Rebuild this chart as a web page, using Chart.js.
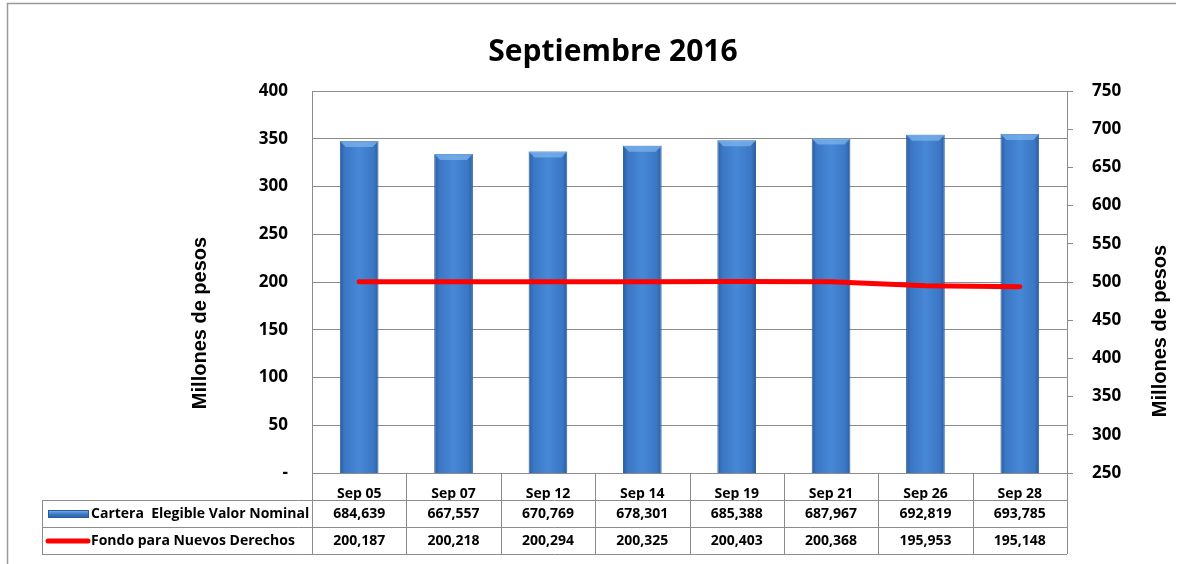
<!DOCTYPE html>
<html>
<head>
<meta charset="utf-8">
<script src="https://cdn.jsdelivr.net/npm/chart.js@4"></script>
<style>
  body { margin: 0; background: #fff; }
  canvas { display: block; }
</style>
</head>
<body>
<canvas id="chart" width="1179" height="564"></canvas>
<script>
const labels = ['Sep 05', 'Sep 07', 'Sep 12', 'Sep 14', 'Sep 19', 'Sep 21', 'Sep 26', 'Sep 28'];
const carteraVals = [684639, 667557, 670769, 678301, 685388, 687967, 692819, 693785];
const fondoVals = [200187, 200218, 200294, 200325, 200403, 200368, 195953, 195148];
const carteraName = 'Cartera  Elegible Valor Nominal';
const fondoName = 'Fondo para Nuevos Derechos';
const axisTitle = 'Millones de pesos';

const FONT = '"Open Sans", Lato, sans-serif';
const ARIAL = '"Liberation Sans", Arial, sans-serif';
const GRID = '#8c8c8c';
const BAR_PCT = 0.41;

function fmt(v) {
  return v.toLocaleString('en-US');
}

function barGradient(ctx, x0, x1) {
  const g = ctx.createLinearGradient(x0, 0, x1, 0);
  g.addColorStop(0, '#2a5b9c');
  g.addColorStop(0.12, '#3a76c4');
  g.addColorStop(0.5, '#4788d6');
  g.addColorStop(0.88, '#3a76c4');
  g.addColorStop(1, '#2a5b9c');
  return g;
}

// outer frame
const framePlugin = {
  id: 'frame',
  beforeDraw(chart) {
    const c = chart.ctx;
    c.save();
    c.strokeStyle = '#9a9a9a';
    c.lineWidth = 1.5;
    c.beginPath();
    c.moveTo(7.5, 564);
    c.lineTo(7.5, 3.5);
    c.lineTo(1176, 3.5);
    c.stroke();
    c.restore();
  }
};

// light bevel on top of each bar
const bevelPlugin = {
  id: 'bevel',
  afterDatasetDraw(chart, args) {
    if (args.index !== 0) return;
    const c = chart.ctx;
    c.save();
    args.meta.data.forEach(el => {
      const hw = el.width / 2;
      c.fillStyle = 'rgba(130,182,240,0.7)';
      c.beginPath();
      c.moveTo(el.x - hw, el.y);
      c.lineTo(el.x + hw, el.y);
      c.lineTo(el.x + hw - 6, el.y + 6);
      c.lineTo(el.x - hw + 6, el.y + 6);
      c.closePath();
      c.fill();
    });
    c.restore();
  }
};

// both axis titles read bottom-to-top
const axisTitlePlugin = {
  id: 'axisTitles',
  afterDraw(chart) {
    const c = chart.ctx;
    c.save();
    c.fillStyle = '#000';
    c.font = 'bold 20px ' + ARIAL;
    c.textAlign = 'center';
    c.textBaseline = 'middle';
    [[200, 323], [1160, 331]].forEach(([x, y]) => {
      c.save();
      c.translate(x, y);
      c.rotate(-Math.PI / 2);
      c.fillText(axisTitle, 0, 0);
      c.restore();
    });
    c.restore();
  }
};

// data table under the plot
const tablePlugin = {
  id: 'dataTable',
  afterDraw(chart) {
    const c = chart.ctx;
    const xs = chart.scales.x;
    const area = chart.chartArea;
    const w = xs.width / labels.length;
    const top = area.bottom, r1 = top + 27, r2 = r1 + 27, r3 = r2 + 27;
    const tableLeft = 42;

    c.save();
    c.strokeStyle = GRID;
    c.lineWidth = 1;
    c.beginPath();
    c.moveTo(area.left, top + 0.5); c.lineTo(area.right, top + 0.5);
    [r1, r2, r3].forEach(y => { c.moveTo(tableLeft, y + 0.5); c.lineTo(area.right, y + 0.5); });
    for (let k = 0; k <= labels.length; k++) {
      const x = Math.round(area.left + k * w) + 0.5;
      c.moveTo(x, top); c.lineTo(x, r3);
    }
    c.moveTo(tableLeft + 0.5, r1); c.lineTo(tableLeft + 0.5, r3);
    c.stroke();

    c.fillStyle = '#000';
    c.font = 'bold 14px ' + FONT;
    c.textAlign = 'center';
    c.textBaseline = 'middle';
    labels.forEach((l, i) => {
      const x = xs.getPixelForValue(i);
      c.fillText(fmt(carteraVals[i]), x, r1 + 14);
      c.fillText(fmt(fondoVals[i]), x, r2 + 14);
    });

    // legend keys
    const kg = c.createLinearGradient(0, r1 + 10, 0, r1 + 19);
    kg.addColorStop(0, '#8abaf0');
    kg.addColorStop(0.4, '#3f7fcc');
    kg.addColorStop(1, '#24538f');
    c.fillStyle = kg;
    c.fillRect(48, r1 + 10, 41, 8);
    c.strokeStyle = '#2a5b9c';
    c.strokeRect(48.5, r1 + 10.5, 40, 7);

    c.strokeStyle = '#ff0000';
    c.lineWidth = 5;
    c.lineCap = 'round';
    c.beginPath();
    c.moveTo(48, r2 + 14); c.lineTo(88, r2 + 14);
    c.stroke();

    c.fillStyle = '#000';
    c.textAlign = 'left';
    c.fillText(carteraName, 91, r1 + 14);
    c.fillText(fondoName, 91, r2 + 14);
    c.restore();
  }
};

const ctx = document.getElementById('chart').getContext('2d');

new Chart(ctx, {
  data: {
    labels: labels,
    datasets: [
      {
        type: 'bar',
        label: carteraName,
        data: carteraVals.map(v => v / 1000),
        yAxisID: 'y1',
        order: 1,
        barPercentage: BAR_PCT,
        categoryPercentage: 1,
        borderColor: '#2d5e9e',
        borderWidth: 1,
        backgroundColor: c => {
          const ch = c.chart, xs = ch.scales.x;
          if (!ch.chartArea || !xs) return '#4080d0';
          const xc = xs.getPixelForValue(c.dataIndex);
          const hw = xs.width / labels.length * BAR_PCT / 2;
          return barGradient(ch.ctx, xc - hw, xc + hw);
        }
      },
      {
        type: 'line',
        label: fondoName,
        data: fondoVals.map(v => v / 1000),
        yAxisID: 'y',
        order: 0,
        borderColor: '#ff0000',
        borderWidth: 5,
        borderCapStyle: 'round',
        pointRadius: 0,
        tension: 0
      }
    ]
  },
  options: {
    responsive: false,
    animation: false,
    layout: { padding: { left: 47, right: 0, top: 0, bottom: 0 } },
    plugins: {
      legend: { display: false },
      tooltip: { enabled: false },
      title: {
        display: true,
        text: 'Septiembre 2016',
        color: '#000',
        font: { family: FONT, size: 30, weight: 'bold' },
        padding: { top: 34, bottom: 21 }
      }
    },
    scales: {
      x: {
        offset: true,
        grid: { display: false },
        border: { display: false },
        ticks: {
          color: '#000',
          font: { family: FONT, size: 14, weight: 'bold' },
          padding: 5,
          maxRotation: 0
        },
        afterFit: s => { s.height = 91; }
      },
      y: {
        position: 'left',
        min: 0,
        max: 400,
        grid: { color: GRID, drawTicks: false },
        border: { display: true, color: GRID },
        ticks: {
          stepSize: 50,
          color: '#000',
          padding: 24,
          font: { family: FONT, size: 17, weight: 'bold' },
          callback: v => (v === 0 ? '-' : v)
        },
        afterFit: s => { s.width = 265; }
      },
      y1: {
        position: 'right',
        min: 250,
        max: 750,
        grid: { drawOnChartArea: false, color: GRID, tickLength: 6 },
        border: { display: true, color: GRID },
        ticks: {
          stepSize: 50,
          color: '#000',
          padding: 19,
          font: { family: FONT, size: 17, weight: 'bold' }
        },
        afterFit: s => { s.width = 112; }
      }
    }
  },
  plugins: [framePlugin, bevelPlugin, axisTitlePlugin, tablePlugin]
});
</script>
</body>
</html>
